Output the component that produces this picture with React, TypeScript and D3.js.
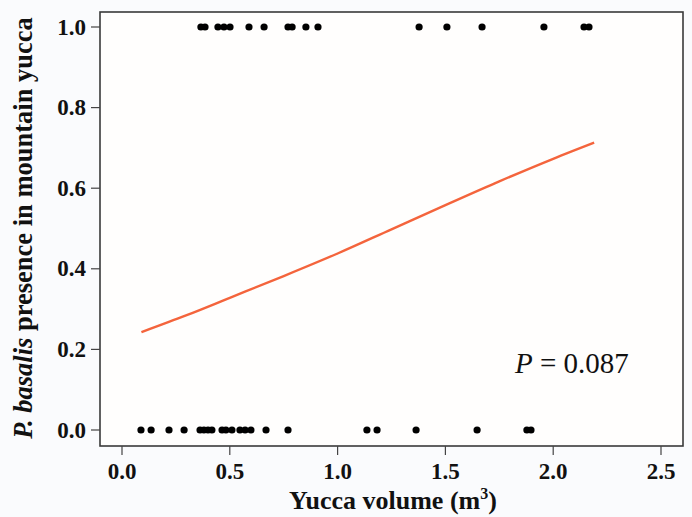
import React, { useEffect } from "react";
import * as d3 from "d3";

const presentX: number[] = [0.366, 0.385, 0.445, 0.473, 0.501, 0.589, 0.659, 0.770, 0.789, 0.853, 0.909, 1.378, 1.507, 1.670, 1.957, 2.143, 2.166];
const absentX: number[] = [0.088, 0.135, 0.218, 0.288, 0.362, 0.380, 0.399, 0.417, 0.464, 0.482, 0.510, 0.547, 0.571, 0.598, 0.668, 0.770, 1.136, 1.183, 1.364, 1.647, 1.878, 1.897];
const curveX: number[] = [0.09, 0.3, 0.5, 0.75, 1.0, 1.25, 1.5, 1.75, 2.0, 2.19];
const curveY: number[] = [0.243, 0.285, 0.328, 0.382, 0.438, 0.498, 0.558, 0.617, 0.673, 0.713];
const xTicks: number[] = [0, 0.5, 1.0, 1.5, 2.0, 2.5];
const yTicks: number[] = [0, 0.2, 0.4, 0.6, 0.8, 1.0];

const W = 692, H = 517;
const box = { left: 100, top: 12, right: 683, bottom: 446 };

export default function App() {
  useEffect(() => {
    document.body.style.margin = "0";
    document.body.style.background = "#fafbfd";
  }, []);

  const x = d3.scaleLinear().domain([0, 2.5]).range([122, 661]);
  const y = d3.scaleLinear().domain([0, 1]).range([430, 27]);
  const line = d3
    .line<number>()
    .x((_, i) => x(curveX[i]))
    .y((d) => y(d))
    .curve(d3.curveMonotoneX);

  const font = "'Liberation Serif', 'Times New Roman', serif";

  return (
    <svg width={W} height={H} style={{ display: "block", background: "#fafbfd" }}>
      <rect x={box.left} y={box.top} width={box.right - box.left} height={box.bottom - box.top} fill="#fffefd" stroke="#3a3a3a" strokeWidth={1.6} />
      {xTicks.map((t) => (
        <g key={"xt" + t}>
          <line x1={x(t)} x2={x(t)} y1={box.bottom} y2={box.bottom + 9} stroke="#444" strokeWidth={1.2} />
          <text x={x(t)} y={479} textAnchor="middle" fontFamily={font} fontWeight="bold" fontSize={23} fill="#111">
            {t.toFixed(1)}
          </text>
        </g>
      ))}
      {yTicks.map((t) => (
        <g key={"yt" + t}>
          <line x1={box.left - 9} x2={box.left} y1={y(t)} y2={y(t)} stroke="#444" strokeWidth={1.2} />
          <text x={86} y={y(t) + 7.5} textAnchor="end" fontFamily={font} fontWeight="bold" fontSize={23} fill="#111">
            {t.toFixed(1)}
          </text>
        </g>
      ))}
      <path d={line(curveY) || ""} fill="none" stroke="#f4643c" strokeWidth={2.4} />
      {presentX.map((v, i) => (
        <circle key={"p" + i} cx={x(v)} cy={y(1)} r={3.6} fill="#000" />
      ))}
      {absentX.map((v, i) => (
        <circle key={"a" + i} cx={x(v)} cy={y(0)} r={3.6} fill="#000" />
      ))}
      <text x={393} y={509} textAnchor="middle" fontFamily={font} fontWeight="bold" fontSize={26} fill="#111">
        Yucca volume (m<tspan fontSize={16} dy={-10}>3</tspan><tspan dy={10}>)</tspan>
      </text>
      <text transform="translate(32,228) rotate(-90)" textAnchor="middle" fontFamily={font} fontWeight="bold" fontSize={26.5} fill="#111">
        <tspan fontStyle="italic">P. basalis</tspan> presence in mountain yucca
      </text>
      <text x={515} y={373} fontFamily={font} fontSize={29} fill="#111">
        <tspan fontStyle="italic">P</tspan> = 0.087
      </text>
    </svg>
  );
}
